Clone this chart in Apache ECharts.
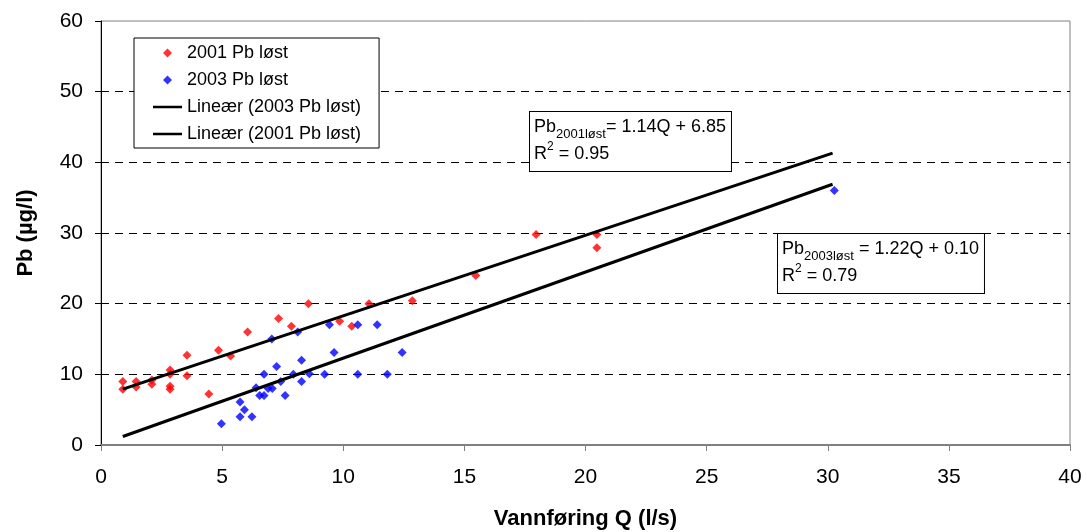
<!DOCTYPE html>
<html>
<head>
<meta charset="utf-8">
<script src="https://cdn.jsdelivr.net/npm/echarts@6/dist/echarts.min.js"></script>
<style>html,body{margin:0;padding:0;background:#fff;}#c{width:1087px;height:532px;}</style>
</head>
<body>
<div id="c"></div>
<script>
// ---- data ----
const xTicks = [0, 5, 10, 15, 20, 25, 30, 35, 40];
const yTicks = [0, 10, 20, 30, 40, 50, 60];
const seriesNames = ['2001 Pb løst', '2003 Pb løst', 'Lineær (2003 Pb løst)', 'Lineær (2001 Pb løst)'];
const pb2001 = [
  [0.9, 9.0], [0.9, 7.9], [1.45, 9.0], [1.45, 8.2], [2.1, 9.2], [2.1, 8.6],
  [2.85, 10.6], [2.85, 10.0], [2.85, 8.3], [2.85, 7.9], [3.55, 12.7], [3.55, 9.8],
  [4.45, 7.2], [4.85, 13.4], [5.35, 12.6], [6.05, 16.0], [7.33, 17.9], [7.86, 16.8],
  [8.56, 20.0], [9.85, 17.5], [10.35, 16.8], [11.06, 20.0], [12.85, 20.4],
  [15.47, 24.0], [17.96, 29.8], [20.47, 29.8], [20.47, 27.9]
];
const pb2003 = [
  [4.97, 3.0], [5.74, 6.1], [5.92, 5.0], [5.74, 4.0], [6.23, 4.0], [6.4, 8.1],
  [6.55, 7.0], [6.73, 7.0], [6.73, 10.0], [6.9, 8.0], [7.07, 8.0], [7.05, 15.0],
  [7.25, 11.1], [7.42, 9.0], [7.6, 7.0], [7.94, 10.0], [8.12, 16.0], [8.28, 12.0],
  [8.28, 9.0], [8.6, 10.1], [9.23, 10.0], [9.43, 17.0], [9.62, 13.1], [10.6, 17.0],
  [10.6, 10.0], [11.4, 17.0], [11.82, 10.0], [12.43, 13.1], [30.27, 36.0]
];
const trend2001 = [[0.9, 7.9], [30.2, 41.3]];
const trend2003 = [[0.9, 1.2], [30.2, 36.9]];
const eq2001 = { sub: '2001løst', rhs: '= 1.14Q + 6.85', r2: ' = 0.95' };
const eq2003 = { sub: '2003løst', rhs: ' = 1.22Q + 0.10', r2: ' = 0.79' };

// ---- chart ----
const FONT = '"Liberation Sans", Arial, sans-serif';
const chart = echarts.init(document.getElementById('c'), null, { renderer: 'canvas' });
const diamondIcon = 'path://M0,-1 L1,0 L0,1 L-1,0 Z';
const lineIcon = 'path://M0,0 L30,0 L30,2.6 L0,2.6 Z';
const rich = {
  m: { fontSize: 18, fontFamily: FONT, color: '#000', lineHeight: 27 },
  s: { fontSize: 13, fontFamily: FONT, color: '#000', lineHeight: 14, verticalAlign: 'bottom' },
  p: { fontSize: 12, fontFamily: FONT, color: '#000', lineHeight: 14, verticalAlign: 'top' }
};
function eqText(e) {
  return '{m|Pb}{s|' + e.sub + '}{m|' + e.rhs + '}\n{m|R}{p|2}{m|' + e.r2 + '}';
}
chart.setOption({
  animation: false,
  backgroundColor: '#fff',
  textStyle: { fontFamily: FONT },
  grid: { left: 101, right: 17, top: 21, bottom: 87, outerBoundsMode: 'none', containLabel: false,
          show: true, borderColor: '#808080', borderWidth: 1, backgroundColor: 'transparent' },
  legend: {
    orient: 'vertical', left: 134, top: 38,
    padding: [6, 18, 5, 19], itemGap: 9, itemWidth: 29, itemHeight: 9,
    backgroundColor: '#fff', borderColor: '#000', borderWidth: 1,
    textStyle: { fontSize: 18, fontFamily: FONT, color: '#000', lineHeight: 18 },
    data: [
      { name: seriesNames[0], icon: diamondIcon },
      { name: seriesNames[1], icon: diamondIcon },
      { name: seriesNames[2], icon: lineIcon, itemStyle: { color: '#000' } },
      { name: seriesNames[3], icon: lineIcon, itemStyle: { color: '#000' } }
    ]
  },
  xAxis: {
    type: 'value', min: xTicks[0], max: xTicks[xTicks.length - 1], interval: xTicks[1] - xTicks[0],
    axisLine: { show: true, onZero: false, lineStyle: { color: '#808080', width: 2 } },
    axisTick: { show: true, inside: false, length: 6, lineStyle: { color: '#808080', width: 1 } },
    axisLabel: { fontSize: 21, color: '#000', margin: 22, fontFamily: FONT },
    splitLine: { show: false },
    name: 'Vannføring Q (l/s)', nameLocation: 'middle', nameGap: 63,
    nameTextStyle: { fontSize: 22, fontWeight: 'bold', color: '#000', fontFamily: FONT }
  },
  yAxis: {
    type: 'value', min: yTicks[0], max: yTicks[yTicks.length - 1], interval: yTicks[1] - yTicks[0],
    axisLine: { show: true, lineStyle: { color: '#000', width: 1 } },
    axisTick: { show: true, inside: false, length: 6, lineStyle: { color: '#000', width: 1 } },
    axisLabel: { fontSize: 21, color: '#000', margin: 18, fontFamily: FONT },
    splitLine: { show: true, showMinLine: false, showMaxLine: false, lineStyle: { color: '#000', type: [8, 6], width: 1 } },
    name: 'Pb (µg/l)', nameLocation: 'middle', nameGap: 64,
    nameTextStyle: { fontSize: 22, fontWeight: 'bold', color: '#000', fontFamily: FONT }
  },
  series: [
    { name: seriesNames[0], type: 'scatter', data: pb2001, symbol: 'diamond', symbolSize: 9, itemStyle: { color: '#FF0000' }, z: 2 },
    { name: seriesNames[1], type: 'scatter', data: pb2003, symbol: 'diamond', symbolSize: 9, itemStyle: { color: '#0000FF' }, z: 2 },
    { name: seriesNames[2], type: 'line', data: trend2003, showSymbol: false, symbol: 'none', lineStyle: { color: '#000', width: 3 }, itemStyle: { color: '#000' }, z: 3 },
    { name: seriesNames[3], type: 'line', data: trend2001, showSymbol: false, symbol: 'none', lineStyle: { color: '#000', width: 3 }, itemStyle: { color: '#000' }, z: 3 }
  ],
  graphic: [
    { type: 'text', left: 529, top: 111, z: 10,
      style: { text: eqText(eq2001), rich: rich, backgroundColor: '#fff', borderColor: '#000', borderWidth: 1, padding: [2, 5, 3, 4] } },
    { type: 'text', left: 777, top: 233, z: 10,
      style: { text: eqText(eq2003), rich: rich, backgroundColor: '#fff', borderColor: '#000', borderWidth: 1, padding: [2, 5, 3, 4] } }
  ]
});
</script>
</body>
</html>
